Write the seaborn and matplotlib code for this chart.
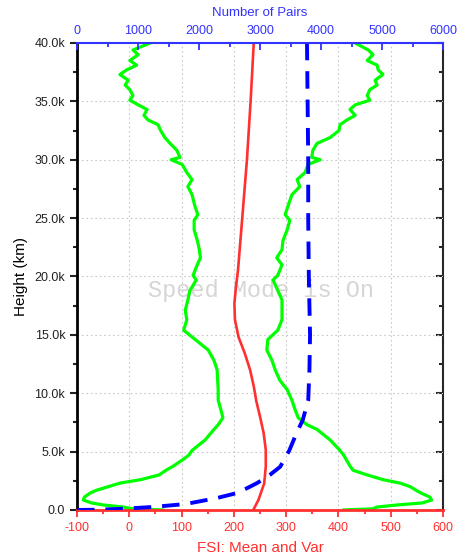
#Height profile of FSI mean/variance with number of pairs
import numpy as np
import pandas as pd
import matplotlib
matplotlib.use('Agg')
import matplotlib.pyplot as plt
from matplotlib.ticker import MultipleLocator, FuncFormatter
import seaborn as sns

#green envelope (km / FSI units)
env_height_km = [40.0, 39.4, 39.0, 38.5, 38.1, 37.7, 37.3, 36.8, 36.4, 36.0, 35.5, 35.1,
                 34.7, 34.3, 33.8, 33.4, 33.0, 32.5, 31.9, 31.4, 30.8, 30.2, 30.0, 29.6,
                 28.9, 28.3, 27.7, 27.0, 26.1, 25.3, 24.8, 24.0, 23.1, 22.3, 21.6, 21.0,
                 20.1, 19.7, 18.8, 18.0, 17.1, 16.3, 15.4, 14.6, 13.7, 12.8, 12.0, 11.1,
                 10.3, 9.4, 8.6, 7.9, 7.3, 6.9, 6.0, 5.1, 4.7, 4.3, 3.7, 3.4, 3.0, 2.6,
                 2.3, 2.0, 1.7, 1.45, 1.1, 0.85, 0.6, 0.43, 0.25, 0.1, 0.0]
fsi_low = [40, 7, 17, 1, 14, -5, -18, -2, -8, 1, 7, 1,
           17, 34, 28, 36, 55, 60, 68, 78, 91, 97, 80, 101,
           110, 120, 112, 120, 125, 131, 124, 124, 130, 134, 136, 130,
           122, 128, 116, 112, 107, 110, 104, 126, 151, 162, 168, 169,
           170, 170, 175, 179, 170, 162, 145, 120, 114, 102, 82, 70, 57, 22,
           -18, -40, -62, -75, -86, -88, -72, -50, -12, 7, 65]
fsi_high = [432, 457, 466, 455, 474, 476, 485, 470, 474, 460, 455, 460,
            432, 422, 432, 416, 403, 401, 384, 359, 351, 349, 365, 342,
            336, 321, 326, 311, 304, 298, 307, 302, 294, 292, 282, 292,
            284, 275, 284, 292, 292, 292, 284, 265, 263, 273, 279, 288,
            302, 311, 317, 323, 340, 359, 384, 403, 410, 415, 423, 428, 455, 485,
            518, 537, 548, 558, 575, 578, 560, 512, 474, 466, 409]

#red mean profile
mean_height_km = [0, 0.86, 2.28, 3.71, 5.14, 6.57, 8.0, 9.3, 10.6, 12.0, 13.4, 14.8,
                  16.3, 17.7, 19.1, 20.6, 25, 30, 35, 40]
fsi_mean = [237, 247, 258, 261, 261, 257, 250, 243, 238, 231, 221, 209,
            202, 201, 204, 208, 216, 225, 232, 238]

#blue number of pairs (top axis)
pairs_height_km = [0, 0.02, 0.09, 0.26, 0.51, 1.03, 1.45, 1.9, 2.3, 3.0, 3.7, 5.1,
                   6.6, 7.7, 9.4, 12, 15, 20, 25, 30, 35, 40]
n_pairs = [0, 300, 700, 1250, 1780, 2300, 2620, 2800, 2950, 3160, 3330, 3480,
           3600, 3700, 3790, 3810, 3820, 3800, 3790, 3790, 3780, 3770]

red = '#ff3030'
blue = '#3333ff'

sns.set_style('ticks')
plt.rcParams['font.family'] = ['Liberation Sans', 'DejaVu Sans']
plt.rcParams['axes.unicode_minus'] = False

env = pd.DataFrame({'h': np.array(env_height_km) * 1000, 'low': fsi_low, 'high': fsi_high})
mean_df = pd.DataFrame({'h': np.array(mean_height_km) * 1000, 'fsi': fsi_mean})
pairs_df = pd.DataFrame({'h': np.array(pairs_height_km) * 1000, 'n': n_pairs})

fig = plt.figure(figsize=(4.59, 5.59), dpi=100)
ax = fig.add_axes([0.1678, 0.0877, 0.7974, 0.8354])

#watermark
ax.text(252, 18800, 'Speed Mode is On', family='Liberation Mono', fontsize=17,
        color='#d6d6d6', ha='center', va='center', zorder=0.5)

sns.lineplot(data=env, x='low', y='h', sort=False, estimator=None, color='#00ff00', lw=2.3, ax=ax)
sns.lineplot(data=env, x='high', y='h', sort=False, estimator=None, color='#00ff00', lw=2.3, ax=ax)
sns.lineplot(data=mean_df, x='fsi', y='h', sort=False, estimator=None, color=red, lw=1.9, ax=ax)

ax.set_xlim(-100, 600)
ax.set_ylim(0, 40000)
ax.xaxis.set_major_locator(MultipleLocator(100))
ax.xaxis.set_minor_locator(MultipleLocator(50))
ax.yaxis.set_major_locator(MultipleLocator(5000))
ax.yaxis.set_minor_locator(MultipleLocator(2500))
ax.yaxis.set_major_formatter(FuncFormatter(lambda v, p: '0.0' if v == 0 else f'{v/1000:.1f}k'))
ax.grid(True, which='major', color='#c8c8c8', linestyle=(0, (1.5, 2.5)), lw=0.8)

ax.tick_params(axis='y', which='major', direction='out', length=5, width=1.5, labelsize=9, colors='#222222')
ax.tick_params(axis='y', which='minor', direction='out', length=3, width=1.5, colors='#222222')
ax.tick_params(axis='x', which='major', direction='out', length=5, width=1.3, labelsize=9, colors=red)
ax.tick_params(axis='x', which='minor', direction='out', length=3, width=1.3, colors=red)

ax.spines['left'].set_linewidth(2)
ax.spines['left'].set_color('black')
ax.spines['bottom'].set_linewidth(2)
ax.spines['bottom'].set_color(red)
ax.spines['top'].set_visible(False)
ax.spines['right'].set_visible(False)

ax.set_xlabel('FSI: Mean and Var', color=red, fontsize=11)
ax.set_ylabel('Height (km)', color='black', fontsize=11)
ax.xaxis.set_label_coords(0.5, -0.066)
ax.yaxis.set_label_coords(-0.135, 0.5)

#right side inward ticks
sec = ax.secondary_yaxis('right')
sec.yaxis.set_major_locator(MultipleLocator(5000))
sec.yaxis.set_minor_locator(MultipleLocator(2500))
sec.tick_params(which='major', direction='in', length=5, width=1.5, labelright=False)
sec.tick_params(which='minor', direction='in', length=3, width=1.5)
sec.spines['right'].set_linewidth(1.5)

#number of pairs on the top axis
ax2 = ax.twiny()
sns.lineplot(data=pairs_df, x='n', y='h', sort=False, estimator=None, color='#0000ff',
             lw=2.8, dashes=False, ax=ax2)
ax2.lines[0].set_dashes((4.5, 2.8))
ax2.set_xlim(0, 6000)
ax2.set_ylim(0, 40000)
ax2.xaxis.set_major_locator(MultipleLocator(1000))
ax2.xaxis.set_minor_locator(MultipleLocator(500))
ax2.tick_params(axis='x', which='major', direction='in', length=5, width=1.3, labelsize=9, colors=blue, pad=4)
ax2.tick_params(axis='x', which='minor', direction='in', length=3, width=1.3, colors=blue)
for s in ['left', 'right', 'bottom']:
    ax2.spines[s].set_visible(False)
ax2.spines['top'].set_color(blue)
ax2.spines['top'].set_linewidth(1.5)
ax2.set_ylabel('')
ax2.set_xlabel('Number of Pairs', color=blue, fontsize=9.5)
ax2.xaxis.set_label_coords(0.5, 1.058)

fig.savefig('out.png', dpi=100)
